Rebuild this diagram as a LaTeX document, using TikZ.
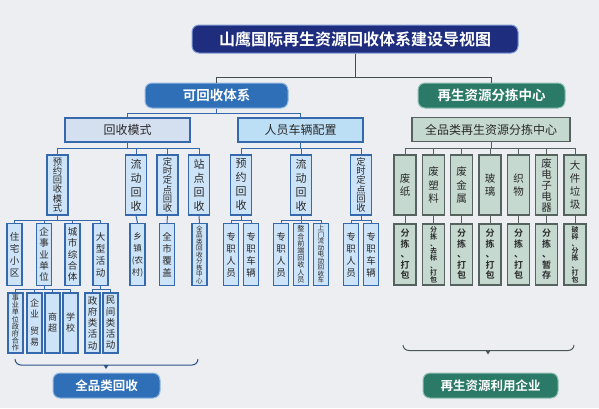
\documentclass[tikz,border=0pt]{standalone}
\usepackage{fontspec}
\setmainfont{Noto Sans CJK SC}[BoldFont={Noto Sans CJK SC Bold}]
\newcommand\fsz[2]{\fontsize{#1}{#2}\selectfont\lineskiplimit=-100pt\lineskip=0pt}
\definecolor{bgc}{HTML}{ECEEF1}
\definecolor{navy}{HTML}{1F2D7F}
\definecolor{navyrim}{HTML}{7F9BD6}
\definecolor{midblue}{HTML}{2F6FB7}
\definecolor{midbluerim}{HTML}{93B8E2}
\definecolor{dgreen}{HTML}{2B7A68}
\definecolor{dgreenrim}{HTML}{8FC0B3}
\definecolor{lblue}{HTML}{CDE3F7}
\definecolor{lblueA}{HTML}{D4DFF0}
\definecolor{lblueB}{HTML}{BDDFF6}
\definecolor{bline}{HTML}{3668AD}
\definecolor{lgreen}{HTML}{C5D9D1}
\definecolor{gline}{HTML}{55625E}
\definecolor{txt}{HTML}{2A2A2A}
\tikzset{
  titlebox/.style={fill=navy,draw=navyrim,line width=1pt,rounded corners=7pt,text=white,
    font=\bfseries\fsz{16}{18},minimum width=326pt,minimum height=28pt,inner sep=0pt},
  bluehead/.style={fill=midblue,draw=midbluerim,line width=1pt,rounded corners=7pt,text=white,
    font=\bfseries\fsz{13.5}{16},minimum height=25pt,inner sep=0pt},
  greenhead/.style={fill=dgreen,draw=dgreenrim,line width=1pt,rounded corners=7pt,text=white,
    font=\bfseries\fsz{13.5}{16},minimum height=25pt,inner sep=0pt},
  bluetwo/.style={draw=bline,line width=1.2pt,text=txt,font=\fsz{12}{14},
    minimum height=24pt,minimum width=125pt,inner sep=0pt},
  greentwo/.style={fill=lgreen,draw=gline,line width=1.1pt,text=txt,font=\fsz{12}{14},
    minimum height=24pt,minimum width=158pt,inner sep=0pt},
  bv/.style={fill=lblue,draw=bline,line width=1.2pt,text=txt,align=center,
    minimum width=21pt,minimum height=60pt,inner sep=0pt},
  bs/.style={fill=lblue,draw=bline,line width=1.1pt,text=txt,align=center,
    minimum width=15pt,minimum height=62pt,inner sep=0pt},
  gv/.style={fill=lgreen,draw=gline,line width=1.1pt,text=txt,align=center,
    minimum width=22pt,minimum height=60pt,inner sep=0pt},
  gs/.style={fill=lgreen,draw=gline,line width=1.1pt,text=txt,align=center,
    minimum width=22pt,minimum height=61pt,inner sep=0pt,font=\bfseries\fsz{9}{10.5}},
  bconn/.style={draw=bline,line width=1pt},
  gconn/.style={draw=gline,line width=1pt},
  tconn/.style={draw=gline!80!black,line width=0.9pt},
  ff/.style={font=\fsz{11}{14}},
  fm/.style={font=\fsz{9.3}{9.2}},
  fsm/.style={font=\fsz{9.5}{12}},
  ft/.style={font=\fsz{6.6}{6.5}},
  fe/.style={font=\fsz{7.1}{7.2}},
}
\begin{document}
\begin{tikzpicture}[x=1pt,y=-1pt]
\fill[bgc] (0,0) rectangle (599,408);
\useasboundingbox (0,0) rectangle (599,408);

% title and heads
\node[titlebox] (title) at (355,39) {山鹰国际再生资源回收体系建设导视图};
\node[bluehead,minimum width=143pt] (kehs) at (216.5,95.5) {可回收体系};
\node[greenhead,minimum width=147pt] (zsfj) at (491.5,95.5) {再生资源分拣中心};
\draw[tconn] (title.south) -- ++(0,24) -| (kehs.north);
\draw[tconn] (title.south) -- ++(0,24) -| (zsfj.north);

% level 2
\node[bluetwo,fill=lblueA] (hsms) at (127.5,130) {回收模式};
\node[bluetwo,fill=lblueB] (rycl) at (300.5,130) {人员车辆配置};
\node[greentwo] (qplf) at (491,129.5) {全品类再生资源分拣中心};
\draw[bconn] (kehs.south) -- ++(0,5) -| (hsms.north);
\draw[bconn] (kehs.south) -- ++(0,5) -| (rycl.north);

% level 3 left
\node[bv,fm] (yyms) at (57.5,185) {预\\约\\回\\收\\模\\式};
\node[bv,ff] (ldhs) at (136,185) {流\\动\\回\\收};
\node[bv,fm] (dsdd) at (167.5,185) {定\\时\\定\\点\\回\\收};
\node[bv,ff] (zdhs) at (199,185) {站\\点\\回\\收};
\foreach \c in {yyms,ldhs,dsdd,zdhs}{\draw[bconn] (hsms.south) -- ++(0,6) -| (\c.north);}

% level 3 right (blue)
\node[bv,ff] (yyhs) at (241,185) {预\\约\\回\\收};
\node[bv,ff] (ldhsb) at (301,185) {流\\动\\回\\收};
\node[bv,fm] (dsddb) at (361,185) {定\\时\\定\\点\\回\\收};
\foreach \c in {yyhs,ldhsb,dsddb}{\draw[bconn] (rycl.south) -- ++(0,6) -| (\c.north);}

% level 4 left
\node[bs,fsm] (zzxq) at (14.5,254.5) {住\\宅\\小\\区};
\node[bs,font=\fsz{9.5}{11.2}] (qsydw) at (44,254.5) {企\\事\\业\\单\\位};
\node[bs,font=\fsz{9.5}{11.2}] (cszht) at (72.5,254.5) {城\\市\\综\\合\\体};
\node[bs,fsm] (dxhd) at (100.5,254.5) {大\\型\\活\\动};
\foreach \c in {zzxq,qsydw,cszht,dxhd}{\draw[bconn] (yyms.south) -- ++(0,5) -| (\c.north);}
\node[bs,font=\fsz{8.5}{12}] (xz) at (137.5,254.5) {乡\\镇\\(农\\村)};
\node[bs,fsm] (qsfg) at (167,254.5) {全\\市\\覆\\盖};
\node[bs,ft] (qpfj) at (199.5,254.5) {全\\品\\类\\回\\收\\分\\拣\\中\\心};
\draw[bconn] (ldhs.south) -- (xz.north);
\draw[bconn] (dsdd.south) -- (qsfg.north);
\draw[bconn] (zdhs.south) -- (qpfj.north);

% level 4 right (blue)
\node[bs,fsm] (zr1) at (231,254.5) {专\\职\\人\\员};
\node[bs,fsm] (zc1) at (251,254.5) {专\\职\\车\\辆};
\foreach \c in {zr1,zc1}{\draw[bconn] (yyhs.south) -- ++(0,5) -| (\c.north);}
\node[bs,fsm] (zr2) at (281,254.5) {专\\职\\人\\员};
\node[bs,fe] (zhqd) at (301,254.5) {整\\合\\前\\端\\回\\收\\人\\员};
\node[bs,ft] (smld) at (321,254.5) {上\\门\\流\\动\\电\\动\\回\\收\\车};
\foreach \c in {zr2,zhqd,smld}{\draw[bconn] (ldhsb.south) -- ++(0,5) -| (\c.north);}
\node[bs,fsm] (zr3) at (351,254.5) {专\\职\\人\\员};
\node[bs,fsm] (zc3) at (371,254.5) {专\\职\\车\\辆};
\foreach \c in {zr3,zc3}{\draw[bconn] (dsddb.south) -- ++(0,5) -| (\c.north);}

% level 5 left
\node[bs,fe,minimum height=60pt] (sydw) at (15.5,323) {事\\业\\单\\位\\政\\府\\合\\作};
\node[bs,font=\fsz{9}{11},minimum height=60pt] (qymy) at (34.5,323) {企\\业\\[6pt]贸\\易};
\node[bs,font=\fsz{9}{11},minimum height=60pt] (sc) at (52.5,323) {商\\超};
\node[bs,font=\fsz{9}{11},minimum height=60pt] (xx) at (70.5,323) {学\\校};
\foreach \c in {sydw,qymy,sc,xx}{\draw[bconn] (qsydw.south) -- ++(0,3.5) -| (\c.north);}
\node[bs,font=\fsz{9.5}{11.2},minimum height=60pt] (zflhd) at (92.5,323) {政\\府\\类\\活\\动};
\node[bs,font=\fsz{9.5}{11.2},minimum height=60pt] (mjlhd) at (110.5,323) {民\\间\\类\\活\\动};
\foreach \c in {zflhd,mjlhd}{\draw[bconn] (dxhd.south) -- ++(0,3.5) -| (\c.north);}

% green level 3/4
\foreach \n/\x/\t/\b in {
  fz/405/{废\\纸}/13.5,
  fsl/433.5/{废\\塑\\料}/13.5,
  fjs/461.5/{废\\金\\属}/13.5,
  bl/490/{玻\\璃}/13.5,
  zw/518.5/{织\\物}/13.5,
  fdz/546.5/{废\\电\\子\\电\\器}/11,
  djlj/575/{大\\件\\垃\\圾}/13}{
  \node[gv,font=\fsz{10.5}{\b}] (\n) at (\x,185) {\t};
  \draw[gconn] (qplf.south) -- ++(0,6.5) -| (\n.north);
}
\node[gs] (fza) at (405,254.5) {分\\拣\\、\\打\\包};
\node[gs,font=\bfseries\fsz{7}{7.2}] (fsla) at (433.5,254.5) {分\\拣\\、\\去\\标\\、\\打\\包};
\node[gs] (fjsa) at (461.5,254.5) {分\\拣\\、\\打\\包};
\node[gs] (bla) at (490,254.5) {分\\拣\\、\\打\\包};
\node[gs] (zwa) at (518.5,254.5) {分\\拣\\、\\打\\包};
\node[gs] (fdza) at (546.5,254.5) {分\\拣\\、\\暂\\存};
\node[gs,font=\bfseries\fsz{7}{7.2}] (djlja) at (575,254.5) {破\\碎\\、\\分\\拣\\、\\打\\包};
\foreach \a/\b in {fz/fza,fsl/fsla,fjs/fjsa,bl/bla,zw/zwa,fdz/fdza,djlj/djlja}{
  \draw[gconn] (\a.south) -- (\b.north);
}

% braces and bottom boxes
\draw[draw=bline!80!black,line width=1pt] (15,359) to[out=-90,in=180] (21,365) -- (192,365) to[out=0,in=-90] (198,359);
\fill[bline!80!black] (103.5,365) -- (108.5,365) -- (106,369) -- cycle;
\draw[draw=gline!90!black,line width=1pt] (403,345) to[out=-90,in=180] (409,350.5) -- (568,350.5) to[out=0,in=-90] (574,345);
\fill[gline!90!black] (485.5,350.5) -- (490.5,350.5) -- (488,354.5) -- cycle;
\node[bluehead,font=\bfseries\fsz{12.5}{14},minimum width=107pt] (qplhs) at (106.5,385.5) {全品类回收};
\node[greenhead,font=\bfseries\fsz{12.5}{14},minimum width=135pt] (zsly) at (490.5,385.5) {再生资源利用企业};
\end{tikzpicture}
\end{document}
